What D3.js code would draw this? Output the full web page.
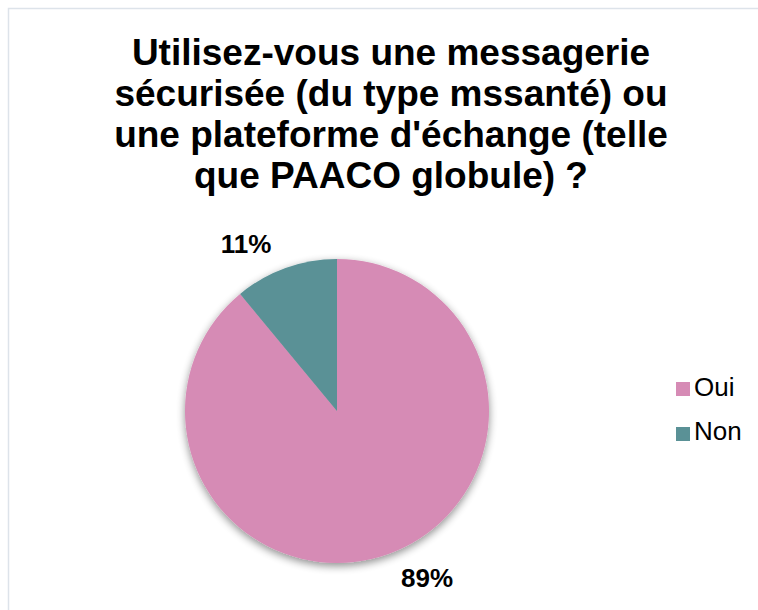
<!DOCTYPE html>
<html><head><meta charset="utf-8">
<script src="https://cdn.jsdelivr.net/npm/d3@7"></script>
<style>body{margin:0;background:#fff}svg{display:block}</style>
</head><body>
<script>
const categories = ["Oui", "Non"];
const values = [89, 11];
const colors = ["#d68bb5", "#5a9196"];
const titleLines = ["Utilisez-vous une messagerie", "sécurisée (du type mssanté) ou", "une plateforme d'échange (telle", "que PAACO globule) ?"];

const W = 758, H = 610;
const svg = d3.select("body").append("svg").attr("width", W).attr("height", H);
const font = "Liberation Sans, Arial, sans-serif";

svg.append("rect").attr("x", 8.5).attr("y", 8.5).attr("width", W + 20).attr("height", H + 20)
  .attr("fill", "#fff").attr("stroke", "#dde3ea").attr("stroke-width", 1.5);

const title = svg.append("text").attr("text-anchor", "middle").attr("font-family", font)
  .attr("font-weight", "bold").attr("font-size", 37).attr("fill", "#000");
titleLines.forEach((t, i) => title.append("tspan").attr("x", 391).attr("y", 65 + i * 41).text(t));

const cx = 337, cy = 411, r = 152;
const defs = svg.append("defs");
const f = defs.append("filter").attr("id", "sh").attr("x", "-20%").attr("y", "-20%").attr("width", "140%").attr("height", "150%");
f.append("feGaussianBlur").attr("in", "SourceAlpha").attr("stdDeviation", 4);
f.append("feOffset").attr("dx", 0).attr("dy", 3).attr("result", "b");
f.append("feComponentTransfer").append("feFuncA").attr("type", "linear").attr("slope", 0.45);
const m = f.append("feMerge"); m.append("feMergeNode"); m.append("feMergeNode").attr("in", "SourceGraphic");

const pie = d3.pie().sort(null).value(d => d);
const arcs = pie(values);
const arc = d3.arc().innerRadius(0).outerRadius(r);
const g = svg.append("g").attr("transform", `translate(${cx},${cy})`).attr("filter", "url(#sh)");
g.selectAll("path").data(arcs).join("path").attr("d", arc).attr("fill", (d, i) => colors[i]);

const lblPos = [[427, 587], [246, 253]];
svg.selectAll("text.lbl").data(arcs).join("text").attr("class", "lbl")
  .attr("x", (d, i) => lblPos[i][0]).attr("y", (d, i) => lblPos[i][1])
  .attr("text-anchor", "middle").attr("font-family", font).attr("font-weight", "bold")
  .attr("font-size", 26).text(d => d3.format(".0f")(d.data) + "%");

const lg = svg.append("g");
categories.forEach((c, i) => {
  lg.append("rect").attr("x", 676).attr("y", 382 + i * 45).attr("width", 14).attr("height", 14).attr("fill", colors[i]);
  lg.append("text").attr("x", 694).attr("y", 396 + i * 44).attr("font-family", font).attr("font-size", 26).text(c);
});
</script>
</body></html>
